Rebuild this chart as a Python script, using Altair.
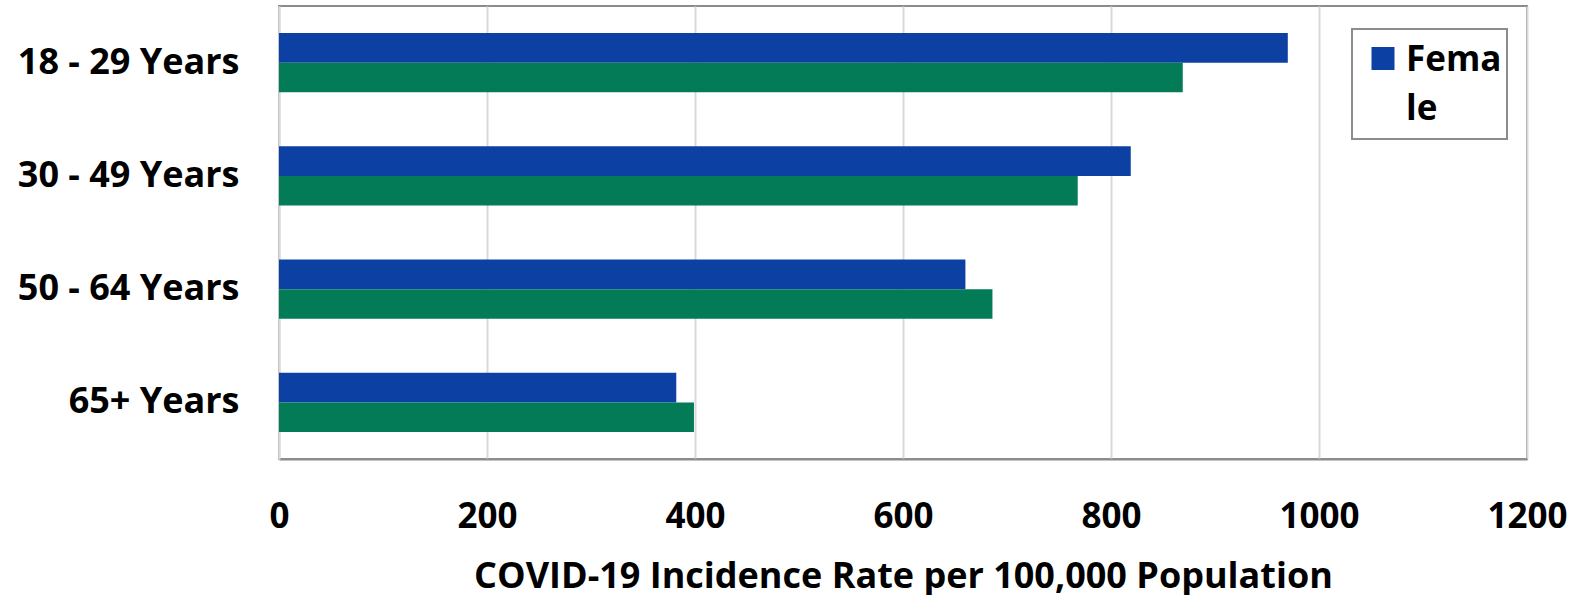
import altair as alt
import pandas as pd

# COVID-19 incidence rate per 100,000 population, by age group and sex
age_groups = ["18 - 29 Years", "30 - 49 Years", "50 - 64 Years", "65+ Years"]
female_rates = [970, 819, 660, 382]
male_rates = [869, 768, 686, 399]
sexes = ["Female", "Male"]
sex_colors = ["#0c40a2", "#037b56"]
x_ticks = [0, 200, 400, 600, 800, 1000, 1200]
x_title = "COVID-19 Incidence Rate per 100,000 Population"
legend_label = "Female"

rows = []
for i, age in enumerate(age_groups):
    rows.append({"age": age, "sex": "Female", "rate": female_rates[i]})
    rows.append({"age": age, "sex": "Male", "rate": male_rates[i]})
df = pd.DataFrame(rows)

FONT = "Open Sans"
W, H = 1248, 453

bars = alt.Chart(df).mark_bar().encode(
    x=alt.X(
        "rate:Q",
        scale=alt.Scale(domain=[0, 1200], nice=False, zero=True),
        axis=alt.Axis(
            values=x_ticks,
            format="d",
            title=x_title,
            labelFont=FONT,
            labelFontWeight="bold",
            labelFontSize=35,
            labelColor="black",
            labelPadding=40,
            titleFont=FONT,
            titleFontWeight="bold",
            titleFontSize=36,
            titleColor="black",
            titlePadding=25,
            ticks=False,
            domainColor="#8c8c8c",
            domainWidth=2,
            grid=True,
            gridColor="#d9d9d9",
            gridWidth=2,
            labelFlush=False,
        ),
    ),
    y=alt.Y(
        "age:N",
        sort=age_groups,
        scale=alt.Scale(paddingInner=0.478, paddingOuter=0.239),
        axis=alt.Axis(
            title=None,
            labelFont=FONT,
            labelFontWeight="bold",
            labelFontSize=36,
            labelColor="black",
            labelPadding=40,
            labelLimit=400,
            ticks=False,
            domainColor="#d9d9d9",
            domainWidth=2,
            grid=False,
        ),
    ),
    yOffset=alt.YOffset("sex:N", sort=sexes, scale=alt.Scale(paddingInner=0, paddingOuter=0)),
    color=alt.Color("sex:N", scale=alt.Scale(domain=sexes, range=sex_colors), legend=None),
)

# Legend box drawn inside the plot area (only the first series is listed)
legend_df = pd.DataFrame({"sex": [legend_label], "text": [legend_label[:4] + "\n" + legend_label[4:]]})

legend_box = alt.Chart(legend_df).mark_rect(
    fill="white", stroke="#8c8c8c", strokeWidth=2
).encode(
    x=alt.value(1073), x2=alt.value(1228), y=alt.value(23), y2=alt.value(133)
)

legend_symbol = alt.Chart(legend_df).mark_square(size=529, opacity=1).encode(
    x=alt.value(1104),
    y=alt.value(52.5),
    fill=alt.value(sex_colors[0]),
)

legend_text = alt.Chart(legend_df).mark_text(
    align="left",
    baseline="alphabetic",
    lineBreak="\n",
    lineHeight=49,
    font=FONT,
    fontWeight="bold",
    fontSize=35,
    color="black",
).encode(
    x=alt.value(1127),
    y=alt.value(65),
    text="text:N",
)

chart = alt.layer(bars, legend_box, legend_symbol, legend_text).properties(
    width=W,
    height=H,
    autosize=alt.AutoSizeParams(type="none"),
    padding={"left": 279, "top": 6, "right": 55, "bottom": 136},
    background="white",
).configure_view(
    stroke="#8c8c8c",
    strokeWidth=2,
)

chart.save("out.html", embed_options={"renderer": "svg", "actions": False})
